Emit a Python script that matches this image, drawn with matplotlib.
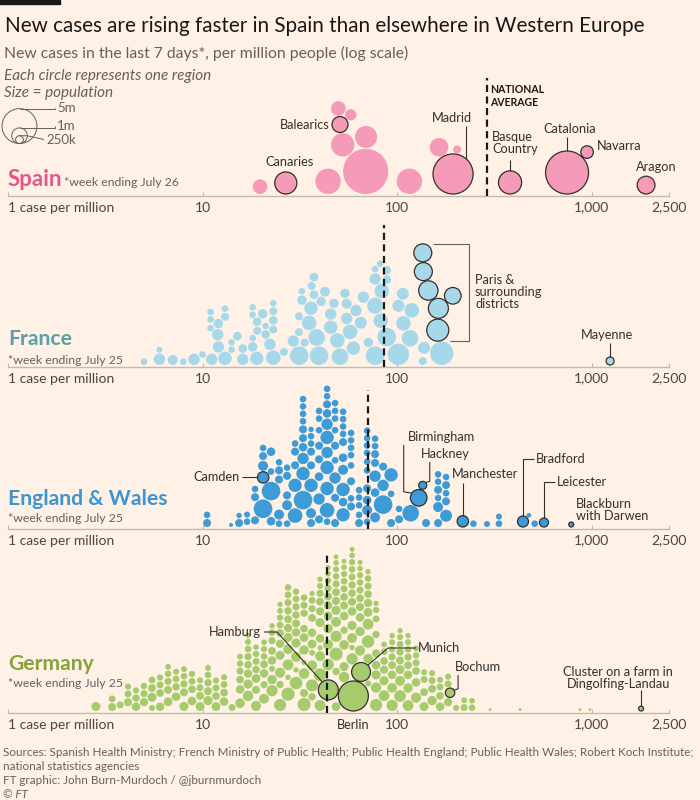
import numpy as np
import matplotlib.pyplot as plt
from matplotlib.patches import Circle

plt.rcParams['font.family'] = ['Lato', 'DejaVu Sans']

# ---------------- data (cases per million, population in thousands) ----------------
# Spain: placed in list order
es_values = [19.75, 26.8, 44.2, 69.0, 115.7, 194, 381, 748, 1906,
             52.6, 69.3, 50.9, 49.9, 57.8, 164.4, 203.5, 948]
es_pops = [880, 2000, 2650, 8400, 2650, 6600, 2200, 7600, 1300,
           2250, 2000, 1050, 880, 530, 1420, 260, 650]
es_names = ['', 'Canaries', '', '', '', 'Madrid', 'Basque Country', 'Catalonia', 'Aragon',
            '', '', 'Balearics', '', '', '', '', 'Navarra']
es_avg = 290

# France: placed in list order
fr_values = [5.0, 135.6, 7.03, 1245, 6.0, 9.04, 11.15, 19.0, 16.1, 13.05,
             23.1, 50.9, 7.96, 31.4, 39.7, 77.1, 101.6, 10.0, 169.7, 26.2,
             6.0, 14.1, 59.6, 18.1, 12.06, 22.2, 16.1, 14.1, 29.3, 18.1,
             49.3, 38.6, 15.1, 88.5, 116.6, 11.97, 21.1, 31.3, 57.3, 71.2,
             161.9, 19.1, 23.1, 45.6, 12.06, 35.3, 65.1, 19.1, 55.1, 107.8,
             11.0, 23.1, 82.5, 13.05, 31.3, 45.6, 11.0, 18.1, 13.05, 163.1,
             36.1, 20.4, 23.1, 61.5, 119.0, 18.1, 47.4, 11.0, 21.1, 77.1,
             23.1, 32.4, 40.7, 55.1, 101.6, 193.4, 144.8, 33.4, 67.1, 54.0,
             42.6, 107.0, 37.4, 83.4, 32.4, 36.4, 136.5, 77.1, 37.4, 88.5,
             77.1, 135.6, 88.5, 81.8, 137.7]
fr_pops = [179, 263, 411, 263, 534, 534, 534, 738, 534, 738,
           876, 1132, 179, 1422, 1422, 1422, 1882, 179, 2250, 263,
           148, 179, 738, 363, 534, 534, 304, 179, 534, 179,
           876, 1132, 304, 1422, 1132, 534, 304, 263, 876, 363,
           1989, 263, 263, 738, 363, 876, 592, 304, 534, 876,
           179, 304, 876, 263, 263, 534, 179, 179, 179, 1644,
           738, 363, 263, 534, 876, 179, 363, 179, 179, 1052,
           179, 363, 363, 411, 592, 1132, 1547, 263, 534, 363,
           411, 592, 304, 876, 179, 263, 1331, 534, 304, 304,
           179, 1331, 304, 179, 592]
fr_paris = [40, 59, 75, 76, 86, 91]
fr_mayenne = 3
fr_avg = 85.8

# England & Wales: columns of local authorities, populations listed bottom-up
en_col_values = [10.55, 14.01, 15.41, 16.94, 18.62, 20.47, 22.5, 24.74, 27.2, 29.9,
                 32.86, 36.13, 39.72, 43.67, 48.01, 52.78, 58.02, 63.79, 70.13, 77.1,
                 84.76, 93.17, 102.4, 117.5, 141.0, 162.5, 178.6, 247, 290, 334, 476, 510]
en_col_pops = [
    [263, 179], [66], [263, 120], [179, 150], [263, 263, 179],
    [1422, 411, 263, 179],
    [1422, 304, 304, 179],
    [179, 411, 263, 263, 179],
    [179, 411, 263, 263, 179],
    [876, 738, 263, 263, 179],
    [1422, 738, 534, 304, 263, 263, 179, 179, 179, 179],
    [263, 738, 411, 263, 263, 179, 179, 120],
    [263, 534, 304, 263, 263, 179, 179, 179],
    [876, 738, 738, 534, 738, 534, 304, 263, 179, 179, 179],
    [263, 534, 263, 263, 179, 179, 179, 179, 179],
    [738, 304, 738, 411, 304, 263, 179, 179, 179, 179],
    [263, 179, 263, 179, 179, 179, 179, 179],
    [263, 179, 179, 179, 179],
    [179, 411, 304, 263, 179, 179, 179, 179, 179, 179],
    [411, 304, 534, 263, 263, 179, 179],
    [1422, 534, 263],
    [263, 738, 179],
    [263, 179],
    [1132], [263],
    [263, 411, 179, 263, 179, 179],
    [592, 263, 179, 263, 179],
    [179], [148], [179, 148], [87], [179],
]
en_named = ['Camden', 'Birmingham', 'Hackney', 'Manchester', 'Bradford', 'Leicester',
            'Blackburn with Darwen']
en_named_values = [20.5, 129.2, 135.5, 217.8, 444, 569, 786]
en_named_pops = [534, 1132, 263, 534, 497, 333, 103]
en_named_layer = [1, 1, 1, 0, 0, 0, 0]
en_avg = 71.1

# Germany: columns of districts, populations listed bottom-up
de_col_values = [2.83, 3.43, 3.77, 4.14, 4.55, 5.0, 5.5, 6.05, 6.65, 7.31,
                 8.03, 8.83, 9.71, 10.67, 11.73, 12.9, 14.18, 15.59, 17.14, 18.84,
                 20.71, 22.77, 25.03, 27.52, 30.25, 33.26, 36.56, 40.19, 44.19, 48.58,
                 53.4, 58.71, 64.54, 70.96, 78.0, 85.76, 94.3, 103.6, 113.9, 125.2,
                 137.7, 151.4, 166.4, 182.9, 201.1, 221.1, 243.0, 301, 429, 873, 982]
de_col_pops = [
    [330], [260, 190], [200], [270, 200, 150], [300, 220, 160], [280, 210, 170],
    [330, 250, 190, 150], [290, 240, 200, 160], [320, 260, 210, 180, 140],
    [300, 230, 190, 150], [340, 260, 220, 180, 140], [310, 240, 190, 160],
    [330, 250, 200, 150], [350, 270, 220, 180, 140], [320, 240, 200, 160],
    [300, 250, 190, 150], [200], [380, 300, 240, 200, 170, 140],
    [450, 340, 280, 240, 210, 180, 150, 120],
    [420, 320, 260, 230, 200, 170, 130],
    [400, 300, 250, 210, 180, 160, 140],
    [520, 360, 290, 250, 220, 180, 150, 120],
    [600, 420, 330, 280, 250, 220, 190, 160, 140, 120],
    [720, 480, 380, 320, 280, 250, 230, 210, 190, 170, 120],
    [650, 420, 340, 290, 260, 230, 210, 190, 170, 120],
    [700, 460, 360, 310, 270, 240, 220, 200, 180, 120],
    [600, 420, 330, 290, 250, 230, 210, 190, 140, 110],
    [680, 500, 400, 340, 300, 270, 250, 210, 150, 130, 110],
    [560, 420, 360, 310, 280, 250, 210, 170, 130, 110],
    [700, 520, 400, 340, 300, 270, 250, 230, 210, 170, 150, 120, 100],
    [450, 380, 330, 290, 260, 240, 220, 200, 180, 160, 130, 100],
    [520, 400, 340, 300, 270, 240, 220, 200, 180, 160, 130, 120, 100],
    [420, 350, 300, 270, 240, 210, 180, 160, 130, 100],
    [640, 480, 380, 320, 280, 240, 200, 180, 150, 120],
    [600, 440, 350, 300, 260, 220, 190, 160, 120],
    [480, 340, 280, 240, 190, 140],
    [520, 380, 300, 250, 210, 170, 150, 120],
    [560, 400, 320, 260, 220, 180, 150, 120],
    [480, 360, 300, 250, 210, 180, 150, 120],
    [420, 300, 240, 200, 170, 140],
    [330, 250, 200, 150], [360, 260, 200, 150], [300, 240, 190, 150], [280, 200, 150],
    [150], [200, 140], [180, 130], [35], [35], [35], [35],
]
de_named = ['Berlin', 'Munich', 'Hamburg', 'Bochum', 'Dingolfing-Landau']
de_named_values = [59.6, 65.3, 44.3, 187.3, 1797]
de_named_pops = [3700, 1470, 1640, 365, 97]
de_named_layer = [-1, -1, -1, 1, 0]
de_avg = 43.6

# ---------------- style ----------------
BG = '#fff1e5'
INK = '#33302e'
GREY = '#66605c'
AXIS = '#c4b9ae'
R_PER_M = 7.8      # circle radius (px) for 1 million people
GAP = 2.0          # gap between circles and the axis line
PAD = 0.8          # gap between circles

TICKS = [1, 10, 100, 1000, 2500]
TICK_LABELS = ['1 case per million', '10', '100', '1,000', '2,500']


def radius(pops):
    return R_PER_M * np.sqrt(np.asarray(pops, float) / 1000.0)


def by_layers(col_values, col_pops, named_values, named_pops, named_layer):
    """Order circles layer by layer (bottom circle of every column first)."""
    vals, pops, tags = [], [], []
    depth = max(len(p) for p in col_pops)
    for k in range(-1, depth):
        for i, l in enumerate(named_layer):
            if l == k:
                vals.append(named_values[i]); pops.append(named_pops[i]); tags.append(i)
        for v, p in zip(col_values, col_pops):
            if 0 <= k < len(p):
                vals.append(v); pops.append(p[k]); tags.append(-1)
    return vals, pops, tags


def dodge(xs, rs):
    xs = np.asarray(xs, float); rs = np.asarray(rs, float)
    ys = np.zeros(len(xs))
    for i in range(len(xs)):
        x, r = xs[i], rs[i]
        px, py, pr = xs[:i], ys[:i], rs[:i]
        d = r + pr + PAD
        dx = x - px
        near = np.abs(dx) < d
        cands = [r]
        if near.any():
            dy = np.sqrt(d[near] ** 2 - dx[near] ** 2)
            cands += list(py[near] + dy) + [c for c in py[near] - dy if c >= r]
        for c in sorted(cands):
            if not near.any() or np.all(dx[near] ** 2 + (c - py[near]) ** 2 >= d[near] ** 2 - 1e-6):
                ys[i] = c
                break
    return ys


fig = plt.figure(figsize=(7, 8), dpi=100, facecolor=BG)
ov = fig.add_axes([0, 0, 1, 1], zorder=5)
ov.set_xlim(0, 700); ov.set_ylim(800, 0); ov.axis('off')
ov.patch.set_alpha(0)


def panel(base, top):
    ax = fig.add_axes([8 / 700, 1 - base / 800, 661 / 700, (base - top) / 800])
    ax.set_xscale('log')
    ax.set_xlim(1, 2500)
    ax.set_ylim(0, base - top)
    ax.patch.set_alpha(0)
    for s in ['top', 'right', 'left']:
        ax.spines[s].set_visible(False)
    ax.spines['bottom'].set_color(AXIS)
    ax.spines['bottom'].set_linewidth(1.0)
    ax.set_yticks([])
    ax.set_xticks(TICKS)
    ax.set_xticklabels(TICK_LABELS)
    ax.minorticks_off()
    ax.tick_params(axis='x', direction='in', length=3, color=AXIS, labelsize=10,
                   labelcolor='#4a4543', pad=4)
    ax.get_xticklabels()[0].set_ha('left')
    return ax


def swarm(ax, base, values, pops, fill, outline=()):
    r = radius(pops)
    xs = ax.transData.transform(np.column_stack([values, np.zeros(len(values))]))[:, 0]
    ys = dodge(xs, r) + GAP
    ec = [INK if i in outline else 'none' for i in range(len(values))]
    lw = [0.9 if i in outline else 0 for i in range(len(values))]
    ax.scatter(values, ys, s=(1.44 * r) ** 2, c=fill, edgecolors=ec, linewidths=lw,
               clip_on=False, zorder=3)
    return xs, base - ys, r


def avg_line(ax, value, height):
    ax.plot([value, value], [0, height], color='#1a1817', lw=1.6, ls=(0, (3.2, 2.0)),
            clip_on=False, zorder=4)


def t(x, y, s, size=9, color=INK, **kw):
    kw.setdefault('va', 'center')
    return ov.text(x, y, s, fontsize=size, color=color, **kw)


def line(pts, color=INK, lw=0.8):
    pts = np.asarray(pts)
    ov.plot(pts[:, 0], pts[:, 1], color=color, lw=lw, solid_capstyle='butt')


# ---------------- header ----------------
ov.add_patch(plt.Rectangle((0, 0), 60, 4, color='#1a1817', clip_on=False))
t(5, 31.5, 'New cases are rising faster in Spain than elsewhere in Western Europe',
  size=14.9, color='#1a1817', va='baseline')
t(4, 58, 'New cases in the last 7 days*, per million people (log scale)',
  size=11.3, color=GREY, va='baseline')
t(4, 80, 'Each circle represents one region', size=11, color=GREY, va='baseline',
  style='italic')
t(4, 97, 'Size = population', size=11, color=GREY, va='baseline', style='italic')

# legend
for pop, lab, lx, ly in [(5000, '5m', 57, 108), (1000, '1m', 57, 125.5), (250, '250k', 46, 139.5)]:
    rr = R_PER_M * np.sqrt(pop / 1000)
    ov.add_patch(Circle((19.5, 143.5 - rr), rr, fill=False, ec=GREY, lw=0.7))
    line([(19.5, 143.5 - 2 * rr), (lx - 2 if pop > 250 else 27, 143.5 - 2 * rr),
          (lx - 2, ly)], color=GREY, lw=0.7)
    t(lx, ly, lab, size=9.5, color=GREY)

# ---------------- Spain ----------------
base = 196
ax = panel(base, 70)
es_out = [i for i, n in enumerate(es_names) if n]
xs, ys, rs = swarm(ax, base, es_values, es_pops, '#f59ab8', es_out)
avg_line(ax, es_avg, base - 78)
t(8, 186.5, 'Spain', size=16, color='#e2588a', weight='bold', va='baseline')
t(64, 186.5, '*week ending July 26', size=8.8, color=GREY, va='baseline')
t(490, 96, 'NATIONAL\nAVERAGE', size=7.6, weight='bold', color='#1a1817', linespacing=1.15)
pos = {n: (xs[i], ys[i], rs[i]) for i, n in enumerate(es_names) if n}
cx, cy, r = pos['Canaries']; t(cx - 20, cy - r - 10, 'Canaries', size=9.2)
cx, cy, r = pos['Balearics']; t(cx - r - 2, cy, 'Balearics', size=9.2, ha='right')
cx, cy, r = pos['Madrid']
t(cx - 1, 118, 'Madrid', size=9.2, ha='center')
line([(cx + 13, 126), (cx + 13, cy - np.sqrt(r * r - 169))])
cx, cy, r = pos['Basque Country']
t(492, 143, 'Basque\nCountry', size=9.2, linespacing=1.05)
line([(cx, 160), (cx, cy - r)])
cx, cy, r = pos['Catalonia']
t(cx + 3, 129, 'Catalonia', size=9.2, ha='center')
line([(cx, 137), (cx, cy - r)])
cx, cy, r = pos['Navarra']; t(cx + r + 4, cy - 6, 'Navarra', size=9.2)
cx, cy, r = pos['Aragon']; t(cx + 10, 167, 'Aragon', size=9.2, ha='center')

# ---------------- France ----------------
base = 367
ax = panel(base, 225)
xs, ys, rs = swarm(ax, base, fr_values, fr_pops, '#a7d8ea', fr_paris + [fr_mayenne])
avg_line(ax, fr_avg, base - 225)
t(8, 345, 'France', size=15.2, color='#5d9fa7', weight='bold', va='baseline')
t(8, 364, '*week ending July 25', size=8.8, color=GREY, va='baseline')
top_i = min(fr_paris, key=lambda i: ys[i] - rs[i])
bot_i = max(fr_paris, key=lambda i: ys[i] + rs[i])
yt, yb = ys[top_i] - rs[top_i], ys[bot_i] + rs[bot_i]
line([(xs[top_i] + rs[top_i] + 1, yt), (469, yt), (469, yb),
      (xs[bot_i] + rs[bot_i] + 1, yb)], color=GREY, lw=0.8)
t(475, 292, 'Paris &\nsurrounding\ndistricts', size=9.2, linespacing=1.05)
cx, cy, r = xs[fr_mayenne], ys[fr_mayenne], rs[fr_mayenne]
t(cx - 3, 335, 'Mayenne', size=9.2, ha='center')
line([(cx, 343), (cx, cy - r)])

# ---------------- England & Wales ----------------
base = 529
ax = panel(base, 390)
vals, pops, tags = by_layers(en_col_values, en_col_pops, en_named_values, en_named_pops,
                             en_named_layer)
out = [i for i, g in enumerate(tags) if g >= 0]
xs, ys, rs = swarm(ax, base, vals, pops, '#3d9bd7', out)
avg_line(ax, en_avg, base - 390)
t(8, 505, 'England & Wales', size=15.2, color='#3a95d3', weight='bold', va='baseline')
t(8, 522, '*week ending July 25', size=8.8, color=GREY, va='baseline')
pos = {en_named[g]: (xs[i], ys[i], rs[i]) for i, g in enumerate(tags) if g >= 0}
cx, cy, r = pos['Camden']
t(240, cy, 'Camden', size=9.2, ha='right')
line([(242, cy), (cx - r, cy)])
cx, cy, r = pos['Birmingham']
t(cx + 23, 437, 'Birmingham', size=9.2, ha='center')
line([(cx - 15, 445), (cx - 15, cy - 6), (cx - r * 0.8, cy - r * 0.55)])
cx, cy, r = pos['Hackney']
t(cx + 23, 454, 'Hackney', size=9.2, ha='center')
line([(cx + 7, 462), (cx + 7, cy - 4), (cx + r * 0.7, cy - r * 0.7)])
cx, cy, r = pos['Manchester']
t(cx + 22, 474, 'Manchester', size=9.2, ha='center')
line([(cx, 483), (cx, cy - r)])
cx, cy, r = pos['Bradford']
t(536, 459, 'Bradford', size=9.2)
line([(534, 459), (cx, 459), (cx, cy - r)])
cx, cy, r = pos['Leicester']
t(557, 482, 'Leicester', size=9.2)
line([(555, 482), (cx, 482), (cx, cy - r)])
cx, cy, r = pos['Blackburn with Darwen']
t(cx + 5, 510, 'Blackburn\nwith Darwen', size=9.2, linespacing=1.05)

# ---------------- Germany ----------------
base = 713
ax = panel(base, 553)
vals, pops, tags = by_layers(de_col_values, de_col_pops, de_named_values, de_named_pops,
                             de_named_layer)
out = [i for i, g in enumerate(tags) if g >= 0]
xs, ys, rs = swarm(ax, base, vals, pops, '#a6cb6d', out)
avg_line(ax, de_avg, base - 553)
t(8, 670, 'Germany', size=15.2, color='#88a33c', weight='bold', va='baseline')
t(8, 687, '*week ending July 25', size=8.8, color=GREY, va='baseline')
pos = {de_named[g]: (xs[i], ys[i], rs[i]) for i, g in enumerate(tags) if g >= 0}
cx, cy, r = pos['Hamburg']
t(261, 632, 'Hamburg', size=9.2, ha='right')
line([(264, 632), (277, 632), (cx - r * 0.6, cy - r * 0.8)])
cx, cy, r = pos['Munich']
t(418, 648, 'Munich', size=9.2)
line([(416, 648), (388, 648), (cx + r * 0.7, cy - r * 0.7)])
cx, cy, r = pos['Bochum']
t(455, 667, 'Bochum', size=9.2)
line([(cx + 8, 675), (cx + 8, cy - 4), (cx + r * 0.8, cy - r * 0.5)])
cx, cy, r = pos['Berlin']
t(cx, 725, 'Berlin', size=9.2, ha='center')
cx, cy, r = pos['Dingolfing-Landau']
t(cx - 23, 678, 'Cluster on a farm in\nDingolfing-Landau', size=9.2, ha='center',
  linespacing=1.05)
line([(cx, 690), (cx, cy - r)])

# ---------------- footer ----------------
t(3, 753, 'Sources: Spanish Health Ministry; French Ministry of Public Health; Public Health '
  'England; Public Health Wales; Robert Koch Institute;', size=8.38, color=GREY)
t(3, 767, 'national statistics agencies', size=8.38, color=GREY)
t(3, 781, 'FT graphic: John Burn-Murdoch / @jburnmurdoch', size=8.38, color=GREY)
t(3, 795, '© FT', size=8.38, color=GREY, style='italic')

fig.savefig('out.png', dpi=100, facecolor=BG)
